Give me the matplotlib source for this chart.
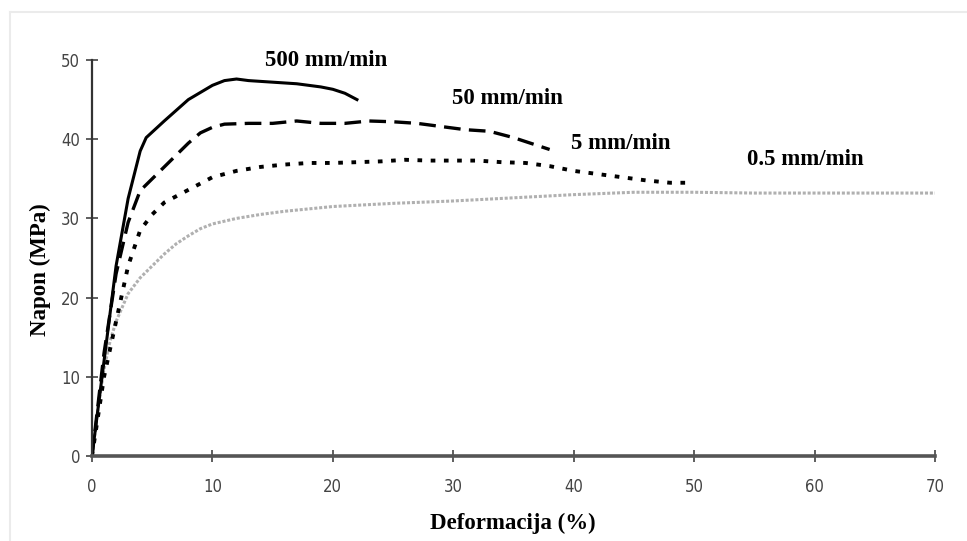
import numpy as np
import matplotlib
matplotlib.use('Agg')
import matplotlib.pyplot as plt
from matplotlib.lines import Line2D

# Stress-strain curves (strain %, stress MPa)
x_500 = [0, 1, 2, 3, 4, 4.5, 6, 8, 10, 11, 12, 13, 15, 17, 19, 20, 21, 22]
y_500 = [0, 12, 24, 32.5, 38.5, 40.2, 42.3, 45, 46.8, 47.4, 47.6, 47.4, 47.2, 47, 46.6, 46.3, 45.8, 45]

x_50 = [0, 1, 2, 3, 4, 5, 6, 7, 8, 9, 10, 11, 13, 15, 17, 19, 21, 23, 25, 27, 29, 31, 33, 35, 37, 38]
y_50 = [0, 13, 23, 29.5, 33.5, 35, 36.5, 38, 39.5, 40.8, 41.5, 41.9, 42, 42, 42.3, 42, 42, 42.3, 42.2, 42, 41.6, 41.2, 41, 40.2, 39.2, 38.7]

x_5 = [0, 1, 2, 3, 4, 5, 6, 8, 10, 12, 14, 16, 18, 20, 22, 24, 26, 28, 30, 32, 34, 36, 38, 40, 42, 44, 46, 48, 49.7]
y_5 = [0, 10, 17, 24, 28.5, 30.5, 32, 33.6, 35.2, 36, 36.5, 36.8, 37, 37, 37.1, 37.2, 37.4, 37.3, 37.3, 37.3, 37.1, 37, 36.6, 36, 35.6, 35.2, 34.8, 34.5, 34.5]

x_05 = [0, 0.5, 1, 1.5, 2, 3, 4, 5, 6, 7, 8, 9, 10, 12, 14, 16, 18, 20, 25, 30, 35, 40, 45, 50, 55, 60, 65, 70]
y_05 = [0, 6, 11, 14.5, 17, 20.5, 22.5, 24, 25.5, 26.8, 27.8, 28.7, 29.3, 30, 30.5, 30.9, 31.2, 31.5, 31.9, 32.2, 32.6, 33, 33.3, 33.3, 33.2, 33.2, 33.2, 33.2]

labels = ['500 mm/min', '50 mm/min', '5 mm/min', '0.5 mm/min']
label_pos = [(19.4, 50), (34.5, 45.2), (43.9, 39.5), (59.2, 37.4)]

fig = plt.figure(figsize=(9.67, 5.41), dpi=100)
fig.patch.set_facecolor('white')

# faint frame of the original image
fig.add_artist(Line2D([10/967, 1], [1 - 12/541, 1 - 12/541], transform=fig.transFigure,
                      color='#ebebeb', lw=1.5))
fig.add_artist(Line2D([10/967, 10/967], [0, 1 - 12/541], transform=fig.transFigure,
                      color='#ebebeb', lw=1.5))

ax = fig.add_axes([92/967, 1 - 456/541, (935 - 92)/967, (456 - 60)/541])

ax.plot(x_05, y_05, color='#b0b0b0', lw=2.2, linestyle=(0, (1, 0.6)))
ax.plot(x_5, y_5, color='black', lw=2.8, linestyle=(0, (1.2, 2.2)))
ax.plot(x_50, y_50, color='black', lw=2.4, linestyle=(0, (5, 2.5)))
ax.plot(x_500, y_500, color='black', lw=2.2)

for txt, (tx, ty) in zip(labels, label_pos):
    ax.text(tx, ty, txt, fontsize=16.5, fontweight='bold', family='Liberation Serif',
            ha='center', va='center', clip_on=False)

ax.set_xlim(0, 70)
ax.set_ylim(0, 50)
ax.set_xticks(np.arange(0, 71, 10))
ax.set_yticks(np.arange(0, 51, 10))

for s in ['top', 'right']:
    ax.spines[s].set_visible(False)
ax.spines['left'].set_color('#333333')
ax.spines['left'].set_linewidth(1.6)
ax.spines['bottom'].set_color('#555555')
ax.spines['bottom'].set_linewidth(2.6)

ax.tick_params(direction='inout', length=9, width=1.1, color='#333333',
               labelsize=12, labelcolor='#444444')
ax.tick_params(axis='x', pad=11)
ax.tick_params(axis='y', pad=4)
for lab in ax.get_xticklabels() + ax.get_yticklabels():
    lab.set_family('DejaVu Sans')
    lab.set_stretch('condensed')

fig.text(513/967, 1 - 523/541, 'Deformacija (%)', fontsize=16.5, fontweight='bold',
         family='Liberation Serif', ha='center', va='center')
fig.text(40/967, 1 - 270/541, 'Napon (MPa)', fontsize=16.5, fontweight='bold',
         family='Liberation Serif', ha='center', va='center', rotation=90)

fig.savefig('out.png', dpi=100)
